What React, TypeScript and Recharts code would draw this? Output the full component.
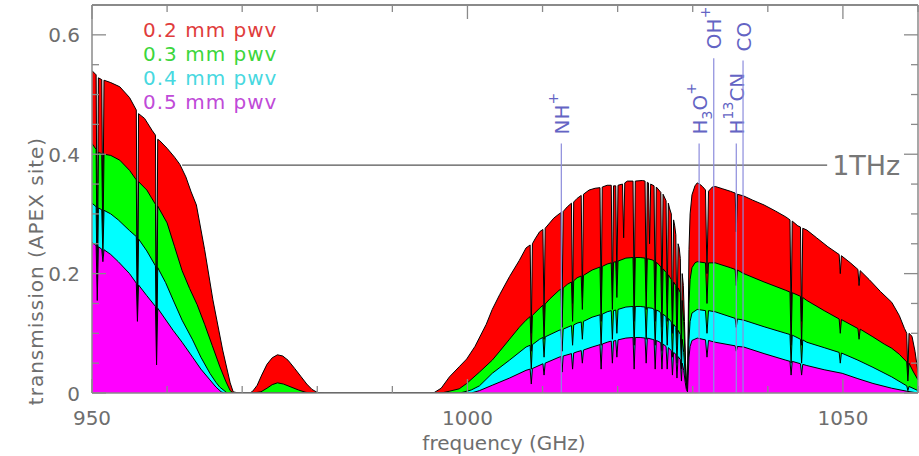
import React from "react";
import { Area, ComposedChart, Legend, ReferenceLine, XAxis, YAxis } from "recharts";

// [frequency GHz, transmission]
type Pt = [number, number];

const FONT = "'DejaVu Sans', sans-serif";
const FRAME = "#8a8a8a";
const LABEL_GRAY = "#6e6e6e";
const MOL_LINE = "#8c8cdc";
const MOL_TEXT = "#6464c4";

const PWV_LABELS = ["0.2 mm pwv", "0.3 mm pwv", "0.4 mm pwv", "0.5 mm pwv"];
const PWV_FILLS = ["#ff0000", "#00ff00", "#00ffff", "#ff00ff"];
const PWV_TEXT = ["#e03c3c", "#3cd63c", "#48d8e0", "#c04ad8"];

const X_TICKS = [950, 960, 970, 980, 990, 1000, 1010, 1020, 1030, 1040, 1050, 1060];
const X_LABELED = [950, 1000, 1050];
const Y_TICKS = [0, 0.05, 0.1, 0.15, 0.2, 0.25, 0.3, 0.35, 0.4, 0.45, 0.5, 0.55, 0.6];
const Y_LABELED = [0, 0.2, 0.4, 0.6];

// 0.2 mm pwv
const PWV02: Pt[] = [
  [950.0, 0.54], [950.55, 0.533], [950.7, 0.2], [950.85, 0.528], [951.3, 0.525], [951.45, 0.28], [951.6, 0.524],
  [952.5, 0.52], [953.7, 0.513], [955.0, 0.495], [955.9, 0.474], [956.05, 0.15], [956.2, 0.468], [957.0, 0.46],
  [958.0, 0.44], [958.45, 0.432], [958.6, 0.1], [958.75, 0.425], [959.0, 0.423], [960.0, 0.41], [961.0, 0.395],
  [961.7, 0.383], [962.5, 0.362], [963.2, 0.337], [963.9, 0.315], [965.0, 0.24], [966.1, 0.156], [967.4, 0.072],
  [968.4, 0.017], [968.8, 0.002], [969.5, 0], [971.0, 0],
  [971.4, 0.003], [972.0, 0.013], [972.6, 0.03], [973.3, 0.048], [974.0, 0.059], [974.7, 0.064], [975.4, 0.062],
  [976.1, 0.055], [977.0, 0.041], [977.8, 0.028], [978.6, 0.015], [979.3, 0.006], [980.0, 0.001], [981.0, 0],
  [995.0, 0], [995.6, 0.001], [996.5, 0.008], [997.6, 0.027], [998.9, 0.044], [999.9, 0.057], [1001.0, 0.078],
  [1002.5, 0.115], [1003.3, 0.14], [1004.3, 0.165], [1005.6, 0.195], [1006.9, 0.222], [1007.8, 0.243],
  [1008.35, 0.248], [1008.5, 0.1], [1008.65, 0.25], [1009.0, 0.258], [1009.6, 0.27],
  [1010.05, 0.274], [1010.2, 0.12], [1010.35, 0.276], [1011.5, 0.293], [1012.2, 0.3],
  [1012.45, 0.302], [1012.6, 0.14], [1012.75, 0.304], [1013.3, 0.312],
  [1013.85, 0.318], [1014.0, 0.15], [1014.15, 0.32], [1014.6, 0.326],
  [1015.15, 0.331], [1015.3, 0.16], [1015.45, 0.333], [1016.2, 0.34], [1017.0, 0.343],
  [1017.65, 0.344], [1017.8, 0.14], [1017.95, 0.345], [1018.6, 0.348],
  [1019.15, 0.348], [1019.3, 0.16], [1019.45, 0.347], [1019.75, 0.347], [1019.9, 0.18], [1020.05, 0.348],
  [1020.65, 0.35], [1020.8, 0.26], [1020.95, 0.352], [1021.3, 0.355],
  [1022.05, 0.355], [1022.2, 0.15], [1022.35, 0.355], [1023.3, 0.356],
  [1023.65, 0.355], [1023.8, 0.17], [1023.95, 0.353], [1024.1, 0.352], [1024.25, 0.25], [1024.4, 0.35],
  [1024.85, 0.347], [1025.0, 0.15], [1025.15, 0.345], [1025.5, 0.34],
  [1025.75, 0.336], [1025.9, 0.14], [1026.05, 0.333], [1026.45, 0.322], [1026.6, 0.15], [1026.75, 0.318],
  [1026.9, 0.31], [1027.15, 0.3], [1027.3, 0.12], [1027.45, 0.29], [1027.6, 0.28],
  [1027.75, 0.265], [1027.9, 0.1], [1028.05, 0.25], [1028.2, 0.243],
  [1028.35, 0.225], [1028.5, 0.08], [1028.6, 0.2], [1028.75, 0.18], [1028.9, 0.12], [1029.05, 0.05],
  [1029.2, 0.01], [1029.3, 0.005],
  [1029.4, 0.12], [1029.5, 0.24], [1029.65, 0.3], [1029.9, 0.332], [1030.3, 0.347], [1030.6, 0.352],
  [1030.9, 0.35], [1031.3, 0.346], [1031.7, 0.34], [1031.9, 0.2], [1032.1, 0.338], [1032.6, 0.345],
  [1033.0, 0.346], [1034.0, 0.342], [1035.0, 0.338], [1035.65, 0.335], [1035.8, 0.27], [1035.95, 0.333],
  [1036.8, 0.33], [1038.0, 0.323], [1039.5, 0.315], [1041.0, 0.305], [1042.4, 0.295],
  [1042.95, 0.29], [1043.1, 0.12], [1043.25, 0.288], [1044.0, 0.28],
  [1044.35, 0.278], [1044.5, 0.12], [1044.65, 0.276], [1045.2, 0.273], [1046.5, 0.26], [1048.0, 0.245],
  [1049.5, 0.232], [1049.65, 0.2], [1049.8, 0.23], [1051.0, 0.218],
  [1052.0, 0.207], [1052.15, 0.18], [1052.3, 0.205], [1053.5, 0.19], [1055.0, 0.17], [1056.5, 0.152],
  [1057.5, 0.13], [1058.2, 0.108], [1058.5, 0.1], [1058.65, 0.03], [1058.8, 0.1], [1059.2, 0.095],
  [1059.6, 0.07], [1060.0, 0.034],
];

// 0.3 mm pwv
const PWV03: Pt[] = [
  [950.0, 0.418], [950.55, 0.408], [950.7, 0.18], [950.85, 0.403], [951.3, 0.401], [951.45, 0.25], [951.6, 0.4],
  [952.5, 0.398], [953.7, 0.39], [955.0, 0.373], [955.9, 0.357], [956.05, 0.13], [956.2, 0.354], [957.3, 0.34],
  [958.45, 0.316], [958.6, 0.07], [958.75, 0.313], [960.0, 0.285], [961.0, 0.245], [962.0, 0.205],
  [963.0, 0.175], [964.0, 0.148], [965.0, 0.115], [966.0, 0.08], [967.0, 0.045], [967.8, 0.02],
  [968.4, 0.004], [968.8, 0],
  [971.5, 0], [972.5, 0.002], [973.3, 0.008], [974.0, 0.014], [974.7, 0.017], [975.5, 0.015], [976.5, 0.01],
  [977.5, 0.005], [978.5, 0.001], [979.5, 0],
  [996.5, 0], [997.6, 0.003], [998.9, 0.007], [999.9, 0.016], [1001.6, 0.035], [1003.3, 0.055], [1004.3, 0.07],
  [1005.6, 0.09], [1006.9, 0.11], [1007.8, 0.122], [1008.35, 0.128], [1008.5, 0.07], [1008.65, 0.13],
  [1009.6, 0.142], [1010.05, 0.147], [1010.2, 0.09], [1010.35, 0.149], [1011.0, 0.158], [1012.2, 0.172],
  [1012.45, 0.174], [1012.6, 0.11], [1012.75, 0.176], [1013.3, 0.182], [1013.85, 0.186], [1014.0, 0.12],
  [1014.15, 0.188], [1014.6, 0.193], [1015.15, 0.196], [1015.3, 0.14], [1015.45, 0.197], [1016.6, 0.206],
  [1017.65, 0.211], [1017.8, 0.12], [1017.95, 0.212], [1018.6, 0.216], [1019.15, 0.218], [1019.3, 0.14],
  [1019.45, 0.219], [1019.75, 0.22], [1019.9, 0.16], [1020.05, 0.221], [1021.1, 0.226],
  [1022.05, 0.227], [1022.2, 0.12], [1022.35, 0.227], [1023.0, 0.227], [1023.65, 0.226], [1023.8, 0.14],
  [1023.95, 0.225], [1024.6, 0.223], [1024.85, 0.221], [1025.0, 0.12], [1025.15, 0.219], [1025.5, 0.215],
  [1025.75, 0.211], [1025.9, 0.11], [1026.05, 0.208], [1026.45, 0.202], [1026.6, 0.12], [1026.75, 0.198],
  [1027.15, 0.19], [1027.3, 0.1], [1027.45, 0.186], [1027.75, 0.18], [1027.9, 0.08], [1028.05, 0.176],
  [1028.35, 0.168], [1028.5, 0.06], [1028.6, 0.155], [1028.8, 0.12], [1029.0, 0.05], [1029.15, 0.015],
  [1029.3, 0.004],
  [1029.4, 0.08], [1029.5, 0.15], [1029.65, 0.19], [1029.9, 0.21], [1030.3, 0.218], [1030.6, 0.22],
  [1031.7, 0.218], [1031.9, 0.15], [1032.1, 0.218], [1033.0, 0.218], [1035.0, 0.21],
  [1035.65, 0.207], [1035.8, 0.18], [1035.95, 0.206], [1036.8, 0.2], [1039.5, 0.186], [1042.4, 0.172],
  [1042.95, 0.169], [1043.1, 0.08], [1043.25, 0.168], [1044.35, 0.162], [1044.5, 0.08], [1044.65, 0.16],
  [1045.2, 0.155], [1047.5, 0.138], [1049.5, 0.124], [1049.65, 0.1], [1049.8, 0.123],
  [1052.0, 0.108], [1052.15, 0.09], [1052.3, 0.107], [1054.0, 0.094], [1055.5, 0.082], [1056.5, 0.075],
  [1057.5, 0.065], [1058.5, 0.052], [1058.65, 0.02], [1058.8, 0.05], [1059.4, 0.035], [1060.0, 0.022],
];

// 0.4 mm pwv
const PWV04: Pt[] = [
  [950.0, 0.318], [950.55, 0.312], [950.7, 0.16], [950.85, 0.31], [951.3, 0.307], [951.45, 0.23], [951.6, 0.306],
  [952.5, 0.3], [953.5, 0.29], [955.0, 0.272], [955.9, 0.262], [956.05, 0.12], [956.2, 0.258], [957.3, 0.238],
  [958.45, 0.213], [958.6, 0.05], [958.75, 0.21], [959.8, 0.185], [960.8, 0.156], [962.0, 0.122],
  [963.4, 0.089], [964.5, 0.06], [965.7, 0.033], [966.5, 0.018], [967.0, 0.01], [968.0, 0],
  [999.0, 0], [1000.5, 0.005], [1001.6, 0.012], [1003.3, 0.033], [1005.6, 0.055], [1007.8, 0.077],
  [1008.35, 0.08], [1008.5, 0.04], [1008.65, 0.081], [1009.6, 0.09], [1010.05, 0.093], [1010.2, 0.06],
  [1010.35, 0.094], [1012.2, 0.105], [1012.45, 0.106], [1012.6, 0.07], [1012.75, 0.107], [1013.85, 0.113],
  [1014.0, 0.08], [1014.15, 0.114], [1014.6, 0.117], [1015.15, 0.119], [1015.3, 0.09], [1015.45, 0.12],
  [1016.6, 0.127], [1017.65, 0.131], [1017.8, 0.08], [1017.95, 0.132], [1018.6, 0.136], [1019.15, 0.138],
  [1019.3, 0.09], [1019.45, 0.138], [1019.75, 0.139], [1019.9, 0.1], [1020.05, 0.14], [1021.1, 0.144],
  [1022.05, 0.145], [1022.2, 0.08], [1022.35, 0.145], [1023.0, 0.145], [1023.65, 0.144], [1023.8, 0.09],
  [1023.95, 0.143], [1024.6, 0.142], [1024.85, 0.14], [1025.0, 0.08], [1025.15, 0.139], [1025.5, 0.137],
  [1025.75, 0.134], [1025.9, 0.07], [1026.05, 0.132], [1026.45, 0.128], [1026.6, 0.08], [1026.75, 0.125],
  [1027.15, 0.119], [1027.3, 0.06], [1027.45, 0.115], [1027.75, 0.11], [1027.9, 0.05], [1028.05, 0.105],
  [1028.35, 0.098], [1028.5, 0.04], [1028.6, 0.09], [1028.8, 0.068], [1029.0, 0.03], [1029.15, 0.01],
  [1029.3, 0.003],
  [1029.4, 0.05], [1029.5, 0.09], [1029.65, 0.12], [1029.9, 0.134], [1030.6, 0.14], [1031.7, 0.138],
  [1031.9, 0.1], [1032.1, 0.138], [1033.0, 0.136], [1035.65, 0.125], [1035.8, 0.11], [1035.95, 0.124],
  [1036.8, 0.122], [1039.5, 0.111], [1042.4, 0.1], [1042.95, 0.098], [1043.1, 0.05], [1043.25, 0.097],
  [1044.35, 0.09], [1044.5, 0.05], [1044.65, 0.089], [1045.2, 0.085], [1047.5, 0.076], [1049.5, 0.068],
  [1049.65, 0.05], [1049.8, 0.067], [1052.0, 0.055], [1054.0, 0.043], [1056.5, 0.027], [1058.5, 0.012],
  [1058.65, 0.004], [1058.8, 0.011], [1060.0, 0.004],
];

// 0.5 mm pwv
const PWV05: Pt[] = [
  [950.0, 0.252], [950.55, 0.247], [950.7, 0.155], [950.85, 0.245], [951.3, 0.241], [951.45, 0.22], [951.6, 0.24],
  [952.5, 0.232], [953.5, 0.22], [955.0, 0.2], [955.9, 0.184], [956.05, 0.12], [956.2, 0.181], [957.3, 0.163],
  [958.45, 0.145], [958.6, 0.047], [958.75, 0.142], [960.8, 0.105], [962.0, 0.085], [963.4, 0.06],
  [964.5, 0.04], [965.7, 0.022], [966.5, 0.01], [967.2, 0.002], [967.6, 0],
  [1000.5, 0], [1001.6, 0.004], [1003.3, 0.013], [1005.6, 0.025], [1007.8, 0.038], [1008.35, 0.04],
  [1008.5, 0.015], [1008.65, 0.041], [1010.05, 0.049], [1010.2, 0.03], [1010.35, 0.05], [1012.2, 0.06],
  [1012.45, 0.061], [1012.6, 0.035], [1012.75, 0.062], [1013.85, 0.066], [1014.0, 0.04], [1014.15, 0.067],
  [1014.6, 0.069], [1015.15, 0.071], [1015.3, 0.05], [1015.45, 0.072], [1016.6, 0.077], [1017.65, 0.081],
  [1017.8, 0.04], [1017.95, 0.082], [1018.6, 0.085], [1019.15, 0.087], [1019.3, 0.05], [1019.45, 0.087],
  [1019.75, 0.088], [1019.9, 0.06], [1020.05, 0.089], [1021.1, 0.092], [1022.05, 0.093], [1022.2, 0.04],
  [1022.35, 0.093], [1023.0, 0.093], [1023.65, 0.092], [1023.8, 0.05], [1023.95, 0.092], [1024.6, 0.09],
  [1024.85, 0.089], [1025.0, 0.04], [1025.15, 0.088], [1025.5, 0.086], [1025.75, 0.084], [1025.9, 0.04],
  [1026.05, 0.082], [1026.45, 0.078], [1026.6, 0.04], [1026.75, 0.076], [1027.15, 0.071], [1027.3, 0.03],
  [1027.45, 0.068], [1027.75, 0.065], [1027.9, 0.025], [1028.05, 0.061], [1028.35, 0.056], [1028.5, 0.02],
  [1028.6, 0.05], [1028.8, 0.038], [1029.0, 0.018], [1029.15, 0.006], [1029.3, 0.002],
  [1029.4, 0.03], [1029.5, 0.06], [1029.65, 0.078], [1029.9, 0.088], [1030.6, 0.092], [1031.7, 0.089],
  [1031.9, 0.06], [1032.1, 0.088], [1033.0, 0.085], [1035.65, 0.079], [1035.8, 0.07], [1035.95, 0.078],
  [1036.8, 0.077], [1039.5, 0.066], [1042.4, 0.055], [1042.95, 0.053], [1043.1, 0.03], [1043.25, 0.053],
  [1044.35, 0.049], [1044.5, 0.03], [1044.65, 0.048], [1045.2, 0.046], [1047.5, 0.039], [1049.9, 0.033],
  [1052.0, 0.024], [1054.0, 0.016], [1056.5, 0.008], [1058.5, 0.003], [1060.0, 0],
];

const SERIES = [PWV02, PWV03, PWV04, PWV05];

// molecular lines marked above the curves
type Part = [string, "" | "sup" | "sub"];
const MOL_FREQS = [1012.5, 1030.85, 1032.8, 1035.8, 1036.7];
const MOL_TOPS = [0.418, 0.418, 0.561, 0.418, 0.557];
const MOL_NAMES: Part[][] = [
  [["NH", ""], ["+", "sup"]],
  [["H", ""], ["3", "sub"], ["O", ""], ["+", "sup"]],
  [["OH", ""], ["+", "sup"]],
  [["H", ""], ["13", "sup"], ["CN", ""]],
  [["CO", ""]],
];

// 1 THz marker
const THZ_LEVEL = 0.3816;
const THZ_FROM = 962.0;
const THZ_TO = 1047.9;

const toRows = (pts: Pt[]) => pts.map(([f, t]) => ({ f, t }));

const BottomTick = (props: any) => {
  const { x, y, payload } = props;
  const major = X_LABELED.includes(payload.value);
  return (
    <g>
      <line x1={x} x2={x} y1={y} y2={y - (major ? 14 : 7)} stroke={FRAME} strokeWidth={1.3} />
      {major && (
        <text x={x} y={y + 32} textAnchor="middle" fontFamily={FONT} fontSize={20} fill={LABEL_GRAY}>
          {payload.value}
        </text>
      )}
    </g>
  );
};

const TopTick = (props: any) => {
  const { x, y, payload } = props;
  const major = X_LABELED.includes(payload.value);
  return <line x1={x} x2={x} y1={y} y2={y + (major ? 14 : 7)} stroke={FRAME} strokeWidth={1.3} />;
};

const LeftTick = (props: any) => {
  const { x, y, payload } = props;
  const major = Y_LABELED.includes(payload.value);
  return (
    <g>
      <line x1={x} x2={x + (major ? 14 : 7)} y1={y} y2={y} stroke={FRAME} strokeWidth={1.3} />
      {major && (
        <text x={x - 12} y={y + 7.5} textAnchor="end" fontFamily={FONT} fontSize={20} fill={LABEL_GRAY}>
          {payload.value}
        </text>
      )}
    </g>
  );
};

const RightTick = (props: any) => {
  const { x, y, payload } = props;
  const major = Y_LABELED.includes(payload.value);
  return <line x1={x} x2={x - (major ? 14 : 7)} y1={y} y2={y} stroke={FRAME} strokeWidth={1.3} />;
};

const YTitle = () => (
  <text
    transform="translate(43,271) rotate(-90)"
    textAnchor="middle"
    fontFamily={FONT}
    fontSize={20}
    letterSpacing={1}
    fill={LABEL_GRAY}
  >
    transmission (APEX site)
  </text>
);

const XTitle = () => (
  <text x={504} y={450} textAnchor="middle" fontFamily={FONT} fontSize={20} fill={LABEL_GRAY}>
    frequency (GHz)
  </text>
);

const MolLabel = (props: any) => {
  const { viewBox, parts } = props;
  const x = viewBox.x + 7.5;
  const y = viewBox.y - 9;
  let shift = 0;
  return (
    <text transform={`translate(${x},${y}) rotate(-90)`} fontFamily={FONT} fontSize={20} fill={MOL_TEXT}>
      {(parts as Part[]).map(([s, kind], i) => {
        const target = kind === "sup" ? -11 : kind === "sub" ? 5 : 0;
        const dy = target - shift;
        shift = target;
        return (
          <tspan key={i} dy={dy} fontSize={kind ? 14 : 20}>
            {s}
          </tspan>
        );
      })}
    </text>
  );
};

const ThzLabel = (props: any) => {
  const { viewBox } = props;
  return (
    <text x={viewBox.x + viewBox.width + 5} y={viewBox.y + 10} fontFamily={FONT} fontSize={27} fill="#777">
      1THz
    </text>
  );
};

const PwvLegend = () => (
  <div style={{ fontFamily: FONT, fontSize: 20, lineHeight: "24px", letterSpacing: 1, whiteSpace: "pre" }}>
    {PWV_LABELS.map((label, i) => (
      <div key={label} style={{ color: PWV_TEXT[i] }}>
        {label}
      </div>
    ))}
  </div>
);

export default function App() {
  return (
    <div style={{ position: "absolute", left: 0, top: 0, background: "#fff" }}>
      <ComposedChart width={919} height={456} margin={{ top: 4, right: 0, bottom: 33, left: 32 }}>
        <XAxis
          dataKey="f"
          type="number"
          domain={[950, 1060]}
          allowDataOverflow
          ticks={X_TICKS}
          interval={0}
          tick={<BottomTick />}
          tickLine={false}
          tickSize={0}
          tickMargin={0}
          height={30}
          axisLine={{ stroke: FRAME, strokeWidth: 1.5 }}
          label={<XTitle />}
        />
        <XAxis
          xAxisId="top"
          orientation="top"
          dataKey="f"
          type="number"
          domain={[950, 1060]}
          allowDataOverflow
          ticks={X_TICKS}
          interval={0}
          tick={<TopTick />}
          tickLine={false}
          tickSize={0}
          tickMargin={0}
          height={1}
          axisLine={{ stroke: FRAME, strokeWidth: 2 }}
        />
        <YAxis
          type="number"
          domain={[0, 0.65]}
          allowDataOverflow
          ticks={Y_TICKS}
          interval={0}
          tick={<LeftTick />}
          tickLine={false}
          tickSize={0}
          tickMargin={0}
          width={60}
          axisLine={{ stroke: FRAME, strokeWidth: 1.5 }}
          label={<YTitle />}
        />
        <YAxis
          yAxisId="right"
          orientation="right"
          type="number"
          domain={[0, 0.65]}
          allowDataOverflow
          ticks={Y_TICKS}
          interval={0}
          tick={<RightTick />}
          tickLine={false}
          tickSize={0}
          tickMargin={0}
          width={1}
          axisLine={{ stroke: FRAME, strokeWidth: 1.5 }}
        />
        {SERIES.map((pts, i) => (
          <Area
            key={PWV_LABELS[i]}
            data={toRows(pts)}
            dataKey="t"
            name={PWV_LABELS[i]}
            type="linear"
            fill={PWV_FILLS[i]}
            fillOpacity={1}
            stroke="#000"
            strokeWidth={1}
            dot={false}
            activeDot={false}
            isAnimationActive={false}
          />
        ))}
        <ReferenceLine
          segment={[
            { x: THZ_FROM, y: THZ_LEVEL },
            { x: THZ_TO, y: THZ_LEVEL },
          ]}
          stroke="#555"
          strokeWidth={1.3}
          ifOverflow="visible"
          label={<ThzLabel />}
        />
        {MOL_FREQS.map((f, i) => (
          <ReferenceLine
            key={f}
            segment={[
              { x: f, y: MOL_TOPS[i] },
              { x: f, y: 0 },
            ]}
            stroke={MOL_LINE}
            strokeWidth={1.2}
            ifOverflow="visible"
            label={<MolLabel parts={MOL_NAMES[i]} />}
          />
        ))}
        <Legend
          content={<PwvLegend />}
          layout="vertical"
          align="center"
          verticalAlign="middle"
          wrapperStyle={{ left: 143, top: 18, width: "auto", height: "auto" }}
        />
      </ComposedChart>
    </div>
  );
}
